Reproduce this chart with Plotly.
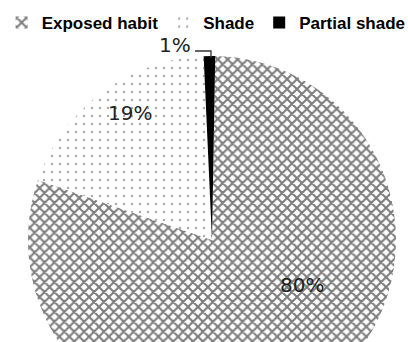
import plotly.graph_objects as go

categories = ["Exposed habit", "Shade", "Partial shade"]
values = [80, 19, 1]
label_texts = [f"{v}%" for v in values]

# geometry (pixels): full-width plot area, pie in a square domain; page cropped by the window
W, H = 408, 425
MT, MB = 56, 1
PH = H - MT - MB
PIE_L, PIE_R = 28, 396


def px(x):
    return x / W


def py(y):
    return (H - MB - y) / PH


fig = go.Figure(go.Pie(
    labels=categories,
    values=values,
    sort=False,
    direction="clockwise",
    rotation=1,
    textinfo="none",
    domain=dict(x=[PIE_L / W, PIE_R / W], y=[0, 1]),
    marker=dict(
        colors=["white", "white", "black"],
        line=dict(width=0),
        pattern=dict(
            shape=["x", ".", ""],
            fgcolor=["#7c7c7c", "#a8a8a8", "black"],
            bgcolor=["white", "white", "black"],
            size=[7, 8, 6],
            solidity=[0.5, 0.07, 0.3],
        ),
    ),
    showlegend=True,
))

label_pos = [(302, 285), (130, 113), (175, 45)]
lab_font = dict(family="DejaVu Sans, Liberation Sans", size=20, color="#222")
for txt, (x, y) in zip(label_texts, label_pos):
    fig.add_annotation(x=px(x), y=py(y), xref="paper", yref="paper",
                       text=txt, showarrow=False, font=lab_font,
                       xanchor="center", yanchor="middle")

# leader line for the small slice label
fig.add_shape(type="path", xref="paper", yref="paper",
              path=f"M {px(195)},{py(51)} L {px(211)},{py(51)} L {px(211)},{py(58)}",
              line=dict(color="#333", width=1.3))

fig.update_layout(
    width=W, height=H,
    margin=dict(l=0, r=0, t=MT, b=MB),
    paper_bgcolor="white",
    plot_bgcolor="white",
    legend=dict(
        orientation="h",
        xref="container", yref="container",
        x=0.004, y=(H - 23) / H, xanchor="left", yanchor="middle",
        font=dict(family="Liberation Sans, Arial", size=17, color="black", weight="bold"),
        itemwidth=30,
    ),
)

fig.write_html("out.html")
